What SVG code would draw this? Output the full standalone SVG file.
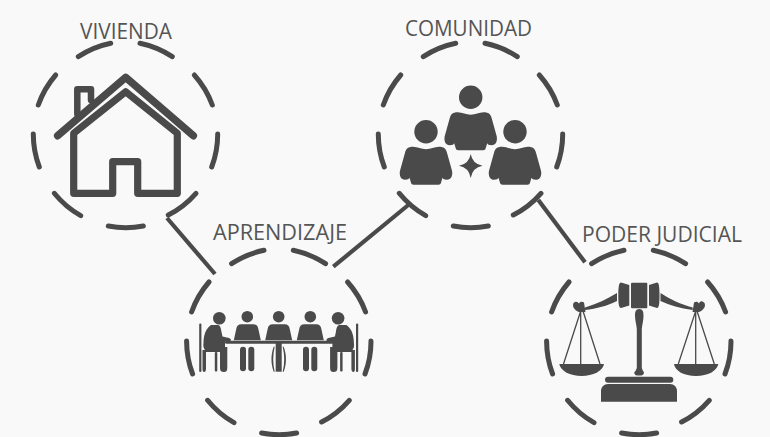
<svg xmlns="http://www.w3.org/2000/svg" xmlns:xlink="http://www.w3.org/1999/xlink" width="770" height="437" viewBox="0 0 770 437">
<style>
.t{font-family:"Open Sans","Liberation Sans",sans-serif;font-size:21px;fill:#555;text-anchor:start}
.k{fill:#4a4a4a;stroke:none}
.s{fill:none;stroke:#4a4a4a;stroke-linecap:round;stroke-linejoin:round}
.c{fill:none;stroke:#4a4a4a;stroke-width:4.200;stroke-linecap:butt}
</style>
<defs>
<path id="ring" class="s" stroke-width="5" d="M-14.800-91.700A93 93 0 0 0-47.200-78.300M14.500-91.700A93 93 0 0 1 46.800-78.300M68.800-60A93 93 0 0 1 86.800-30M92.200-1A93 93 0 0 1 86.200 32M70.500 58.300A93 93 0 0 1 42.800 80M17.800 91A93 93 0 0 1-17.200 91M-44.800 80.700A93 93 0 0 1-71.200 58.300M-86.200 32A93 93 0 0 1-92.200-1M-87.200-30A93 93 0 0 1-69.800-60"/>
<g id="person"><circle class="k" cx="0" cy="0" r="11.700"/><path class="k" d="M0 17.500C5 17.500 8 15 13 15C18 15 20 17 21 21L26 39C27 44 25 48 21 48C18 48 17 47 16.500 46L15 51C14.500 53 13 53 11 53H-11C-13 53-14.500 53-15 51L-16.500 46C-17 47-18 48-21 48C-25 48-27 44-26 39L-21 21C-20 17-18 15-13 15C-8 15-5 17.500 0 17.500Z"/></g>
<g id="sit"><circle class="k" cx="219.300" cy="318.300" r="6.300"/><rect class="k" x="199.200" y="323.500" width="2.200" height="48.500" rx="1"/><path class="k" d="M211 325H218C220 325 221 328 221.500 332L222.500 336.500L229 338C232 339 231 341.500 229 341.500H225V347H227.300V368C227.300 371 226 372 224 372C221.500 372 220 371 220 368V352H206V369C206 371 205 372 204 372C203 372 202.500 371 202.500 369V350H205C203.500 348 203 346 203.500 343C203.500 337 205 329 211 325Z"/><rect class="k" x="214.800" y="352" width="2.500" height="19.500" rx="1"/></g>
<g id="stand"><circle class="k" cx="0" cy="0" r="5.800"/><path class="k" d="M-6 7.500H6C9 7.500 10.500 9 11 12L13.500 23.500H-13.500L-11 12C-10.500 9-9 7.500-6 7.500Z"/><rect class="k" x="-7.300" y="30" width="6" height="24.500" rx="3"/><rect class="k" x="1" y="30" width="6" height="24.500" rx="3"/></g>
</defs>
<rect width="770" height="437" fill="#f9f9f9"/>
<g id="connectors">
<path class="c" d="M167 218L215 274"/>
<path class="c" d="M408.300 205L333.300 266.700"/>
<path class="c" d="M538.300 200L585 262.300"/>
</g>
<g id="vivienda">
<use xlink:href="#ring" href="#ring" x="125.500" y="135"/>
<text class="t" x="80" y="38.500" textLength="92" lengthAdjust="spacingAndGlyphs">VIVIENDA</text>
<path class="s" stroke-width="6.500" stroke-linecap="butt" stroke-linejoin="miter" d="M77.300 114V89.300H91V100"/>
<path class="s" stroke-width="7.500" d="M57.700 135.700L125.700 77.300L193.300 135.700"/>
<path class="s" stroke-width="7.200" d="M73.700 133.300L125.700 91.700L177.300 133.300V193.300H137.700V161.700H112.700V193.300H73.700Z"/>
</g>
<g id="comunidad">
<use xlink:href="#ring" href="#ring" x="470.500" y="135"/>
<text class="t" x="405" y="35.500" textLength="127" lengthAdjust="spacingAndGlyphs">COMUNIDAD</text>
<use xlink:href="#person" href="#person" x="470.700" y="97.300"/>
<use xlink:href="#person" href="#person" x="426" y="131.700"/>
<use xlink:href="#person" href="#person" x="515" y="131.700"/>
<path class="k" d="M470.700 154Q472.500 164 482.500 165.700Q472.500 167.500 470.700 178Q469 167.500 459 165.700Q469 164 470.700 154Z"/>
</g>
<g id="aprendizaje">
<use xlink:href="#ring" href="#ring" x="278.800" y="342"/>
<text class="t" x="213" y="239.500" textLength="134" lengthAdjust="spacingAndGlyphs">APRENDIZAJE</text>
<use xlink:href="#sit" href="#sit"/>
<use xlink:href="#sit" href="#sit" transform="translate(557.400 0) scale(-1 1)"/>
<use xlink:href="#stand" href="#stand" x="247.300" y="316.700"/>
<use xlink:href="#stand" href="#stand" x="310.300" y="316.700"/>
<g transform="translate(278.700 316.700)"><circle class="k" r="5.800"/><path class="k" d="M-6 7.500H6C9 7.500 10.500 9 11 12L13.500 23.500H-13.500L-11 12C-10.500 9-9 7.500-6 7.500Z"/><rect class="k" x="-3" y="26" width="6" height="29"/><path class="k" d="M-5 30C-8 38-8 47-5 55H-4C-6 47-6 38-4 30ZM5 30C8 38 8 47 5 55H4C6 47 6 38 4 30Z"/></g>
<rect class="k" x="225" y="340.800" width="108.500" height="3" rx="1.500"/>
</g>
<g id="poder-judicial">
<use xlink:href="#ring" href="#ring" x="638.800" y="342"/>
<text class="t" x="582" y="241.500" textLength="160" lengthAdjust="spacingAndGlyphs">PODER JUDICIAL</text>
<rect class="k" x="631" y="282.700" width="16.300" height="25.600" rx="1"/>
<path class="k" d="M621 282.500L629.300 285V305.500L621 308C619 308 618.300 304 618.300 295.500C618.300 287 619 282.500 621 282.500ZM657 282.500L649 285V305.500L657 308C659 308 659.500 304 659.500 295.500C659.500 287 659 282.500 657 282.500Z"/>
<path class="k" d="M617 293V301C607 306 597 308.500 585 310V307.500C597 304 607 299 617 293ZM660.500 293V301C670 305 680 308.500 692.700 310V307.500C681 304.500 670 299 660.500 293Z"/>
<path class="k" d="M639.300 309C643 309 643.500 312 643.500 316C643.500 320 642.200 325 641.800 329V368L643 371C644.500 372 644.500 375 641 375.500H637C634 375 633.500 372 635.500 371L636.800 368V329C636.500 325 635 320 635 316C635 312 635.500 309 639.300 309Z"/>
<rect class="k" x="605" y="376.700" width="68.300" height="6" rx="3"/>
<path class="k" d="M601 401.700V391C601 387 604 384 608 384H670C674 384 677 387 677 391V401.700Z"/>
<path class="k" d="M573.500 303C576 300.500 578 302 579 303.500C580 301.500 582 301 584 302.500L585.500 312H579C574 310 572 306 573.500 303ZM704.500 303C702 300.500 700 301 699 303.500C698 301.500 696 301 694 302.500L692.500 312H699C704 310 706 306 704.500 303Z"/>
<path fill="none" stroke="#4a4a4a" stroke-width="1.300" d="M580.700 311L563.500 364M580.700 311V364M583 311L600 364M695.700 311L678.300 364M695.700 311V364M697 311L714.300 364"/>
<path class="k" d="M559.300 364H604C603 371 593 376 581.700 376C570 376 560.500 371 559.300 364ZM674 364H718.300C717 371 708 376 696 376C684 376 675 371 674 364Z"/>
</g>
</svg>
